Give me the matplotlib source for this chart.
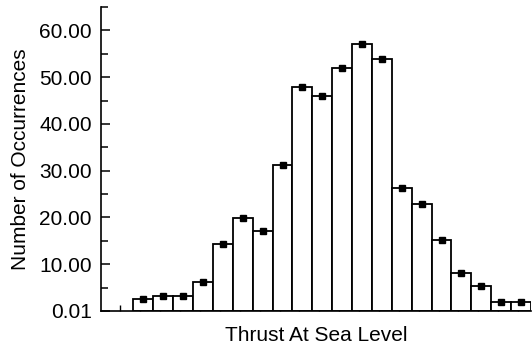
import numpy as np
import matplotlib
matplotlib.use('Agg')
import matplotlib.pyplot as plt
from matplotlib.ticker import FixedLocator, FormatStrFormatter

plt.rcParams['font.family'] = ['Liberation Sans', 'DejaVu Sans']

# histogram bins (1..20) and their counts
bins = np.arange(1, 21)
counts = [2.5, 3.3, 3.3, 6.3, 14.3, 19.9, 17.1, 31.2, 48.0, 46.0,
          51.9, 57.1, 53.9, 26.3, 22.9, 15.2, 8.2, 5.3, 1.9, 1.9]
ytick_vals = [0.01, 10, 20, 30, 40, 50, 60]

fig = plt.figure(figsize=(5.32, 3.48), dpi=100)
ax = fig.add_axes([101 / 532, 1 - 311 / 348, 430 / 532, 304 / 348])

ax.bar(bins, counts, width=1.0, color='white', edgecolor='black', linewidth=1.3, zorder=2)
ax.plot(bins, counts, 's', color='black', markersize=5, zorder=3)

ax.set_xlim(-1.13, 20.5)
ax.set_ylim(0, 65)

ax.spines['top'].set_visible(False)
ax.spines['right'].set_visible(False)
ax.spines['left'].set_linewidth(1.2)
ax.spines['bottom'].set_linewidth(1.2)

ax.yaxis.set_major_locator(FixedLocator(ytick_vals))
ax.yaxis.set_major_formatter(FormatStrFormatter('%.2f'))
ax.yaxis.set_minor_locator(FixedLocator([5, 15, 25, 35, 45, 55, 65]))
ax.tick_params(axis='y', which='major', direction='in', length=6.5, width=1.1, labelsize=15, pad=6.5)
ax.tick_params(axis='y', which='minor', direction='in', length=5, width=1.1)

ax.set_xticks(np.arange(0, 21) - 0.15)
ax.set_xticklabels([])
ax.tick_params(axis='x', direction='in', length=4, width=1.0)

ax.set_xlabel('Thrust At Sea Level', fontsize=15, labelpad=7)
ax.set_ylabel('Number of Occurrences', fontsize=15, labelpad=7)

fig.savefig('out.png', dpi=100)
